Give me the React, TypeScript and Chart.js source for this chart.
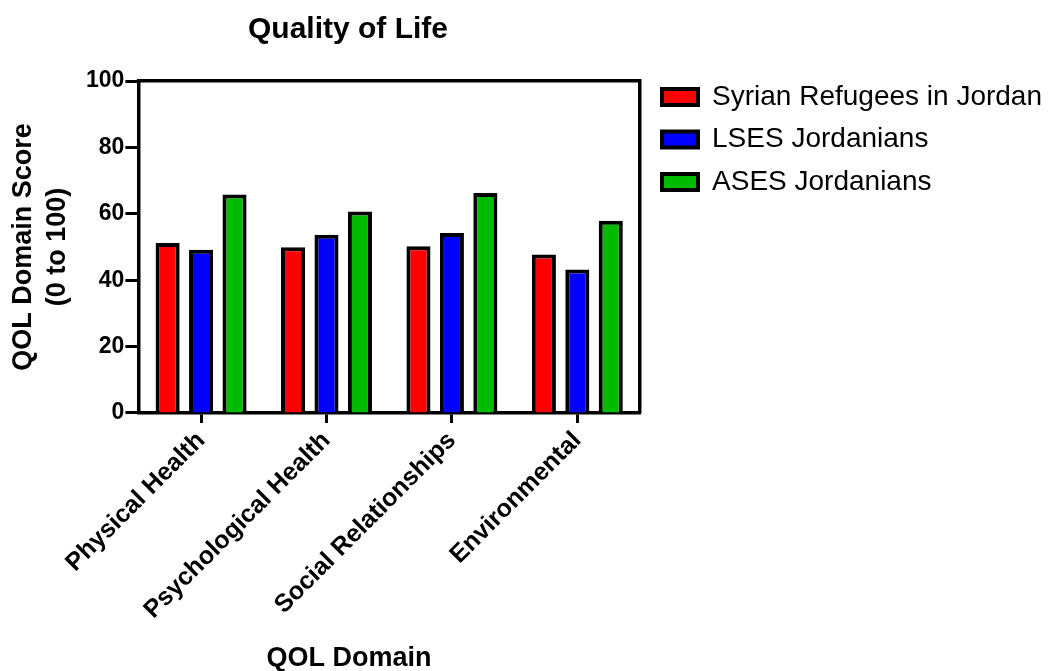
import React, { useEffect, useRef } from 'react';
import { Chart, registerables } from 'chart.js';

Chart.register(...registerables);

const FONT = '"Liberation Sans", Arial, Helvetica, sans-serif';

const TITLE = 'Quality of Life';
const X_TITLE = 'QOL Domain';
const Y_TITLE = ['QOL Domain Score', '(0 to 100)'];

const categories = ['Physical Health', 'Psychological Health', 'Social Relationships', 'Environmental'];
const seriesNames = ['Syrian Refugees in Jordan', 'LSES Jordanians', 'ASES Jordanians'];
const syrianRefugees = [51.2, 49.9, 50.2, 47.7];
const lsesJordanians = [49.2, 53.7, 54.2, 43.2];
const asesJordanians = [65.8, 60.7, 66.3, 57.9];
const seriesColors = ['#FF0000', '#0000FF', '#00BB00'];
const yMin = 0;
const yMax = 100;
const yStep = 20;

const textPlugin = {
  id: 'extraTexts',
  afterDraw(chart: any) {
    const ctx = chart.ctx;
    ctx.save();
    ctx.fillStyle = '#000';
    ctx.textAlign = 'center';
    ctx.textBaseline = 'alphabetic';
    ctx.font = `bold 30px ${FONT}`;
    ctx.fillText(TITLE, 348, 38);
    ctx.font = `bold 27px ${FONT}`;
    ctx.fillText(X_TITLE, 349, 666);
    ctx.restore();
  },
};

export default function App() {
  const ref = useRef<HTMLCanvasElement | null>(null);

  useEffect(() => {
    if (!ref.current) return;
    const seriesData = [syrianRefugees, lsesJordanians, asesJordanians];
    const chart = new Chart(ref.current, {
      type: 'bar',
      data: {
        labels: categories,
        datasets: seriesNames.map((name, i) => ({
          label: name,
          data: seriesData[i],
          backgroundColor: seriesColors[i],
          borderColor: '#000',
          borderWidth: 4,
          borderSkipped: 'start',
          barPercentage: 0.72,
          categoryPercentage: 0.8,
        })),
      },
      options: {
        responsive: false,
        animation: false,
        layout: { padding: { top: 68.5, right: 0, bottom: 43, left: 0 } },
        plugins: {
          title: { display: false },
          tooltip: { enabled: false },
          legend: {
            position: 'right',
            align: 'start',
            maxWidth: 430,
            labels: {
              boxWidth: 36,
              boxHeight: 16,
              padding: 14.5,
              color: '#000',
              font: { family: FONT, size: 28 },
            },
          },
        },
        scales: {
          x: {
            type: 'category',
            offset: true,
            grid: {
              display: true,
              drawOnChartArea: false,
              drawTicks: true,
              tickLength: 10,
              tickWidth: 3,
              tickColor: '#000',
              offset: false,
            },
            border: { display: true, color: '#000', width: 3.5 },
            ticks: {
              color: '#000',
              font: { family: FONT, size: 25, weight: 'bold' },
              maxRotation: 45,
              minRotation: 45,
              autoSkip: false,
              padding: 3,
            },
          },
          y: {
            min: yMin,
            max: yMax,
            grid: {
              display: true,
              drawOnChartArea: false,
              drawTicks: true,
              tickLength: 13,
              tickWidth: 3,
              tickColor: '#000',
            },
            border: { display: true, color: '#000', width: 3.5 },
            ticks: {
              stepSize: yStep,
              color: '#000',
              padding: 1,
              font: { family: FONT, size: 23, weight: 'bold' },
            },
            title: {
              display: true,
              text: Y_TITLE,
              color: '#000',
              font: { family: FONT, size: 27, weight: 'bold', lineHeight: '34px' },
              padding: { top: 7, bottom: 10 },
            },
          },
          x2: {
            type: 'linear',
            position: 'top',
            display: true,
            grid: { display: false },
            ticks: { display: false },
            border: { display: true, color: '#000', width: 3.5 },
            afterFit: (s: any) => { s.height = 12.5; },
          },
          y2: {
            type: 'linear',
            position: 'right',
            display: true,
            grid: { display: false },
            ticks: { display: false },
            border: { display: true, color: '#000', width: 3.5 },
            afterFit: (s: any) => { s.width = 7.5; },
          },
        },
      } as any,
      plugins: [textPlugin],
    });
    return () => chart.destroy();
  }, []);

  return (
    <div style={{ position: 'absolute', left: 0, top: 0, width: 1052, height: 671, background: '#fff' }}>
      <canvas ref={ref} width={1052} height={671} />
    </div>
  );
}
